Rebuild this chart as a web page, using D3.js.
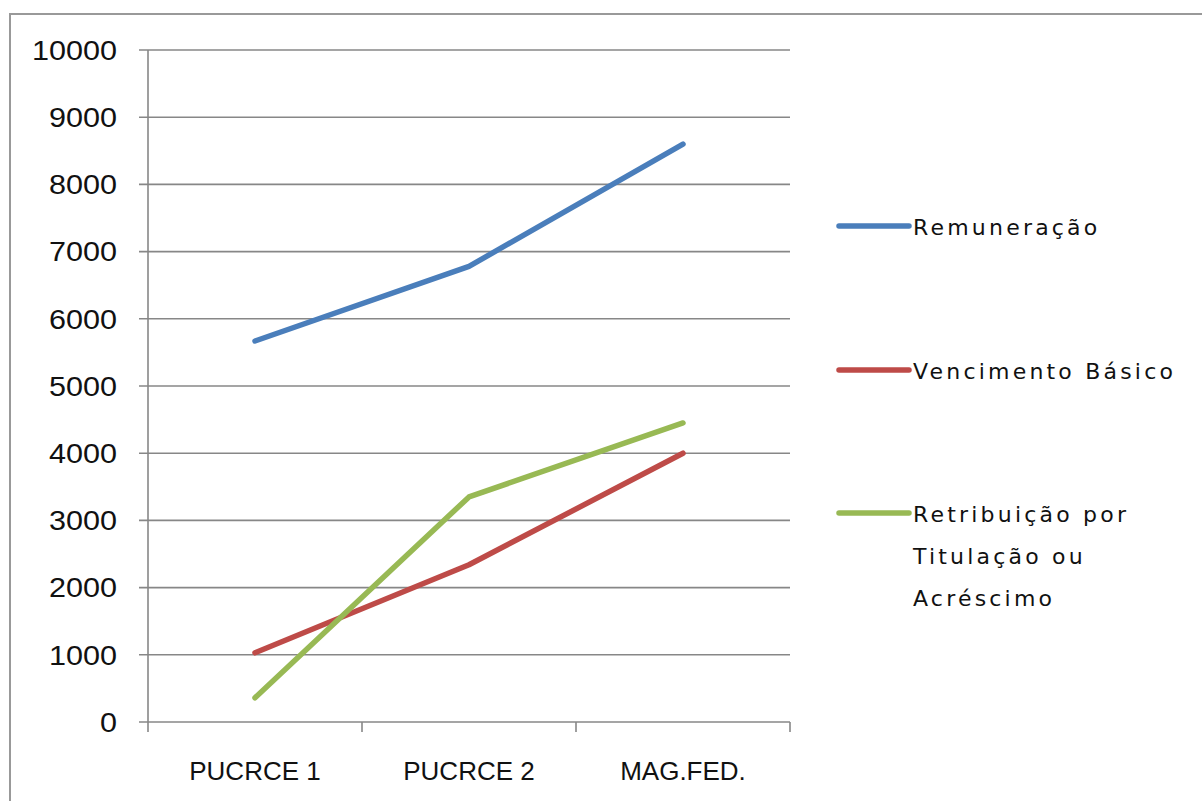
<!DOCTYPE html>
<html><head><meta charset="utf-8">
<script src="https://cdn.jsdelivr.net/npm/d3@7"></script>
<style>
html,body{margin:0;padding:0;background:#fff;}
svg{display:block;}
</style></head>
<body>
<svg id="chart" width="1202" height="801"></svg>
<script>
const categories = ["PUCRCE 1", "PUCRCE 2", "MAG.FED."];
const remuneracao = [5670, 6780, 8600];
const vencimentoBasico = [1030, 2340, 4000];
const retribuicao = [360, 3350, 4450];
const seriesNames = ["Remuneração", "Vencimento Básico", "Retribuição por Titulação ou Acréscimo"];
const legendLines = [["Remuneração"], ["Vencimento Básico"], ["Retribuição por", "Titulação ou", "Acréscimo"]];
const seriesColors = ["#4a7ebb", "#be4b48", "#98b954"];
const yTicks = [0, 1000, 2000, 3000, 4000, 5000, 6000, 7000, 8000, 9000, 10000];

(function () {
const series = [remuneracao, vencimentoBasico, retribuicao];
const svg = d3.select("#chart");

// outer frame (top and left edges visible)
svg.append("path").attr("d", "M10,801 L10,14 L1202,14")
  .attr("fill", "none").attr("stroke", "#999").attr("stroke-width", 2);

const pL = 148, pR = 790, pT = 50, pB = 722;
const x = d3.scaleBand().domain(categories).range([pL, pR]);
const y = d3.scaleLinear().domain([0, 10000]).range([pB, pT]);

// gridlines
svg.append("g").selectAll("line").data(yTicks).join("line")
  .attr("x1", pL - 9).attr("x2", pR)
  .attr("y1", d => y(d)).attr("y2", d => y(d))
  .attr("stroke", "#878787").attr("stroke-width", 1.6);

// y axis line
svg.append("line").attr("x1", pL).attr("x2", pL).attr("y1", pT).attr("y2", pB)
  .attr("stroke", "#878787").attr("stroke-width", 1.6);

// y labels
svg.append("g").selectAll("text").data(yTicks).join("text")
  .attr("x", 117).attr("y", d => y(d)).attr("dy", "0.36em")
  .attr("text-anchor", "end")
  .attr("font-family", "Liberation Sans, Arial, sans-serif")
  .attr("font-size", 27).attr("fill", "#111")
  .attr("textLength", d => String(d).length * 17).attr("lengthAdjust", "spacingAndGlyphs")
  .text(d => d);

// x ticks
const xTickPos = [pL, ...categories.map(c => x(c) + x.bandwidth())];
svg.append("g").selectAll("line").data(xTickPos).join("line")
  .attr("x1", d => d).attr("x2", d => d).attr("y1", pB).attr("y2", pB + 10)
  .attr("stroke", "#878787").attr("stroke-width", 1.6);

// x labels
svg.append("g").selectAll("text").data(categories).join("text")
  .attr("x", d => x(d) + x.bandwidth() / 2).attr("y", 780)
  .attr("text-anchor", "middle")
  .attr("font-family", "Liberation Sans, Arial, sans-serif")
  .attr("font-size", 26).attr("fill", "#111")
  .text(d => d);

// lines
const line = d3.line().x((d, i) => x(categories[i]) + x.bandwidth() / 2).y(d => y(d));
svg.append("g").selectAll("path").data(series).join("path")
  .attr("d", d => line(d))
  .attr("fill", "none")
  .attr("stroke", (d, i) => seriesColors[i])
  .attr("stroke-width", 5.5)
  .attr("stroke-linecap", "round").attr("stroke-linejoin", "round");

// legend
const legendY = [226, 370, 513];
const lg = svg.append("g").selectAll("g").data(legendLines).join("g")
  .attr("transform", (d, i) => `translate(0,${legendY[i]})`);
lg.append("line").attr("x1", 839).attr("x2", 909).attr("y1", 0).attr("y2", 0)
  .attr("stroke", (d, i) => seriesColors[i]).attr("stroke-width", 5.5).attr("stroke-linecap", "round");
lg.each(function(d) {
  const g = d3.select(this);
  d.forEach((t, j) => {
    g.append("text").attr("x", 913).attr("y", 9 + j * 42)
      .attr("font-family", "DejaVu Sans, Verdana, sans-serif")
      .attr("font-size", 22).attr("letter-spacing", 3.2).attr("fill", "#111")
      .text(t);
  });
});
})();
</script>
</body></html>
